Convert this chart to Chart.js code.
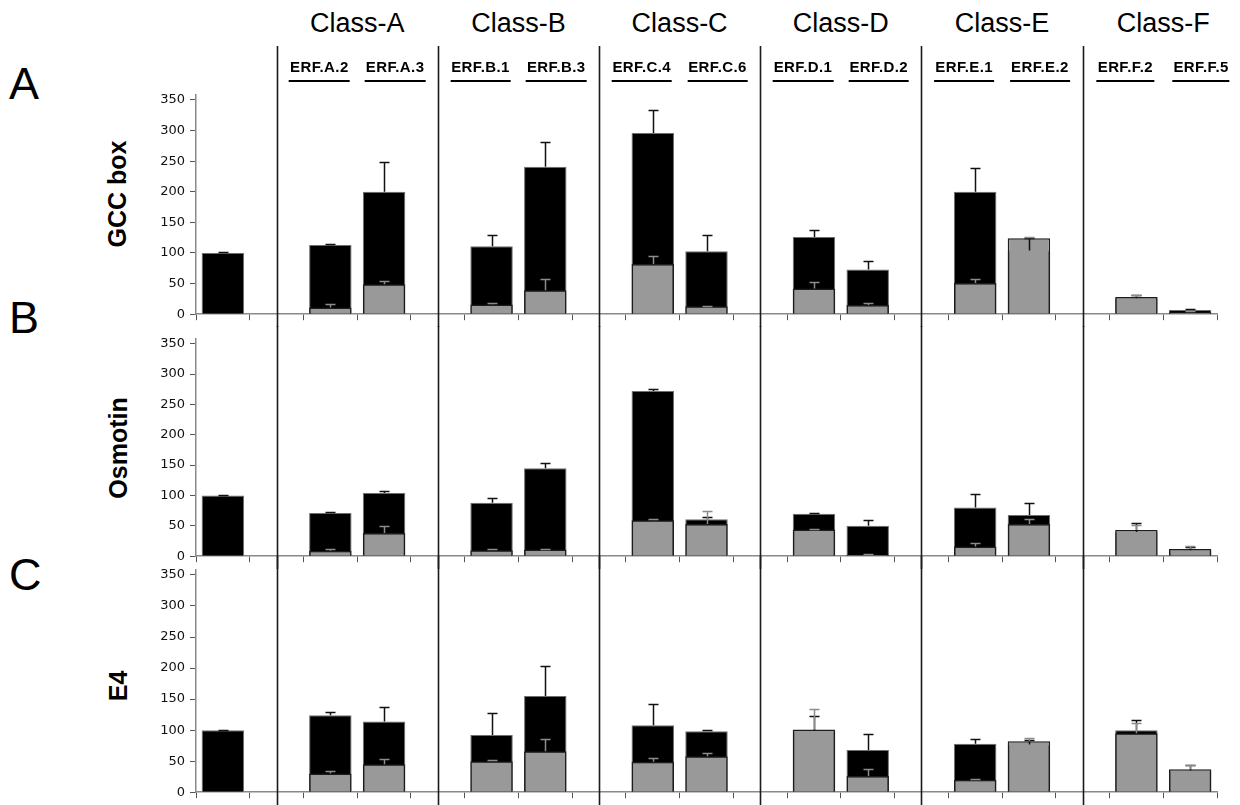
<!DOCTYPE html>
<html>
<head>
<meta charset="utf-8">
<script src="https://cdn.jsdelivr.net/npm/chart.js@4.4.1/dist/chart.umd.min.js"></script>
<style>
  body { margin: 0; background: #fff; width: 1240px; height: 805px; overflow: hidden; position: relative;
         font-family: "Liberation Sans", Arial, sans-serif; color: #000; }
  canvas { position: absolute; left: 0; }
  .panel-letter { position: absolute; left: 9px; font-size: 45px; line-height: 45px; }
  .ytitle { position: absolute; font-weight: bold; font-size: 25px; line-height: 25px; white-space: nowrap;
            transform: translate(-50%, -50%) rotate(-90deg); }
  .class-label { position: absolute; top: 10px; font-size: 27px; line-height: 27px; white-space: nowrap;
                 transform: translateX(-50%); }
  .erf-label { position: absolute; top: 59px; font-size: 15px; line-height: 16px; font-weight: bold; white-space: nowrap;
               letter-spacing: 0.4px; transform: translateX(-50%); border-bottom: 2px solid #000; padding: 0 1px 5px; }
</style>
</head>
<body>
<div class="panel-letter" style="top:61px">A</div>
<div class="panel-letter" style="top:295px">B</div>
<div class="panel-letter" style="top:552px">C</div>
<div class="ytitle" style="left:117px; top:194px">GCC box</div>
<div class="ytitle" style="left:118px; top:448px">Osmotin</div>
<div class="ytitle" style="left:118px; top:686px">E4</div>

<canvas id="chart-gcc" width="1240" height="281" style="top:46px"></canvas>
<canvas id="chart-osm" width="1240" height="243" style="top:326px"></canvas>
<canvas id="chart-e4" width="1240" height="249" style="top:556px"></canvas>

<script>
// ===================== Data =====================
const categories = ['Control', '', 'ERF.A.2', 'ERF.A.3', '', 'ERF.B.1', 'ERF.B.3', '', 'ERF.C.4', 'ERF.C.6', '',
  'ERF.D.1', 'ERF.D.2', '', 'ERF.E.1', 'ERF.E.2', '', 'ERF.F.2', 'ERF.F.5'];
const classNames = ['Class-A', 'Class-B', 'Class-C', 'Class-D', 'Class-E', 'Class-F'];
const classPairs = [[2, 3], [5, 6], [8, 9], [11, 12], [14, 15], [17, 18]];
const separatorIdx = [1, 4, 7, 10, 13, 16];
const yTicks = [0, 50, 100, 150, 200, 250, 300, 350];

// GCC box
const gccBlack    = [100, null, 113, 200, null, 111, 241, null, 296, 103, null, 126, 73, null, 200, 104, null, 26, 7];
const gccBlackErr = [1, null, 2, 48, null, 19, 40, null, 38, 27, null, 12, 14, null, 39, 21, null, 6, 1];
const gccGray     = [null, null, 11, 49, null, 16, 39, null, 82, 13, null, 42, 15, null, 51, 124, null, 28, 3];
const gccGrayErr  = [null, null, 6, 5, null, 3, 18, null, 13, 1, null, 10, 3, null, 6, 2, null, 4, 2];

// Osmotin
const osmBlack    = [100, null, 71, 104, null, 88, 145, null, 272, 61, null, 70, 50, null, 80, 68, null, 40, 10];
const osmBlackErr = [0, null, 1, 3, null, 8, 9, null, 4, 3, null, 1, 9, null, 23, 20, null, 15, 5];
const osmGray     = [null, null, 9, 38, null, 10, 11, null, 59, 53, null, 44, 2, null, 16, 53, null, 43, 12];
const osmGrayErr  = [null, null, 3, 12, null, 2, 1, null, 3, 22, null, 1, 1, null, 5, 8, null, 8, 4];

// E4
const e4Black    = [100, null, 124, 114, null, 92, 155, null, 108, 98, null, 99, 68, null, 78, 77, null, 100, 35];
const e4BlackErr = [0, null, 5, 23, null, 35, 48, null, 34, 2, null, 23, 26, null, 7, 7, null, 16, 9];
const e4Gray     = [null, null, 30, 45, null, 50, 66, null, 49, 58, null, 101, 26, null, 20, 82, null, 95, 37];
const e4GrayErr  = [null, null, 4, 8, null, 2, 19, null, 6, 5, null, 33, 11, null, 2, 5, null, 16, 7];

// ===================== Plugins =====================
const separators = {
  id: 'separators',
  afterDraw(chart) {
    const { ctx, scales: { x } } = chart;
    ctx.save();
    ctx.strokeStyle = '#1a1a1a';
    ctx.lineWidth = 1.6;
    separatorIdx.forEach(i => {
      const px = Math.round(x.getPixelForValue(i)) + 0.5;
      ctx.beginPath();
      ctx.moveTo(px, 0);
      ctx.lineTo(px, chart.height);
      ctx.stroke();
    });
    ctx.restore();
  }
};

const errorBars = {
  id: 'errorBars',
  afterDatasetsDraw(chart) {
    const { ctx, scales: { y } } = chart;
    ctx.save();
    ctx.lineWidth = 1.5;
    chart.data.datasets.forEach((ds, di) => {
      const meta = chart.getDatasetMeta(di);
      ctx.strokeStyle = ds.errColor;
      meta.data.forEach((bar, i) => {
        const v = ds.data[i], e = ds.errors[i];
        if (v == null || e == null) return;
        const cx = Math.round(bar.x) + 0.5;
        const y0 = y.getPixelForValue(v), y1 = Math.round(y.getPixelForValue(v + e)) + 0.5;
        ctx.beginPath();
        ctx.moveTo(cx, y0);
        ctx.lineTo(cx, y1);
        ctx.moveTo(cx - 5, y1);
        ctx.lineTo(cx + 5, y1);
        ctx.stroke();
      });
    });
    ctx.restore();
  }
};

// ===================== Charts =====================
function makePanel(id, padTop, black, blackErr, gray, grayErr) {
  return new Chart(document.getElementById(id), {
    type: 'bar',
    data: {
      labels: categories,
      datasets: [
        { data: black, errors: blackErr, errColor: '#111', order: 1,
          backgroundColor: '#000', borderColor: '#6e6e6e', borderWidth: 1,
          barPercentage: 0.79, categoryPercentage: 1 },
        { data: gray, errors: grayErr, errColor: '#8c8c8c', order: 0,
          backgroundColor: '#999999', borderColor: '#1c1c1c', borderWidth: 1.5,
          barPercentage: 0.79, categoryPercentage: 1 },
      ],
    },
    options: {
      responsive: false,
      animation: false,
      layout: { padding: { top: padTop, right: 23, bottom: 3, left: 0 } },
      plugins: { legend: { display: false }, tooltip: { enabled: false } },
      scales: {
        x: {
          stacked: true,
          offset: true,
          border: { color: '#8a8a8a', width: 1.5 },
          grid: { offset: true, drawOnChartArea: false, tickLength: 6, color: '#555' },
          ticks: { display: false },
        },
        y: {
          stacked: false,
          min: 0,
          max: 358,
          afterBuildTicks: s => { s.ticks = yTicks.map(v => ({ value: v })); },
          afterFit: s => { s.width = 196; },
          border: { color: '#8a8a8a', width: 1.5 },
          grid: { drawOnChartArea: false, tickLength: 6, color: '#555' },
          ticks: { font: { family: 'DejaVu Sans', size: 13 }, color: '#111', padding: 5 },
        },
      },
    },
    plugins: [errorBars, separators],
  });
}

const gccChart = makePanel('chart-gcc', 49, gccBlack, gccBlackErr, gccGray, gccGrayErr);
makePanel('chart-osm', 12, osmBlack, osmBlackErr, osmGray, osmGrayErr);
makePanel('chart-e4', 14, e4Black, e4BlackErr, e4Gray, e4GrayErr);

// ===================== Header labels =====================
const xs = gccChart.scales.x;
classPairs.forEach(([a, b], k) => {
  const left = xs.getPixelForValue(a), right = xs.getPixelForValue(b);
  const cls = document.createElement('div');
  cls.className = 'class-label';
  cls.style.left = ((left + right) / 2) + 'px';
  cls.textContent = classNames[k];
  document.body.appendChild(cls);

  [[a, left - 11], [b, right + 11]].forEach(([idx, px]) => {
    const lab = document.createElement('div');
    lab.className = 'erf-label';
    lab.style.left = px + 'px';
    lab.textContent = categories[idx];
    document.body.appendChild(lab);
  });
});
</script>
</body>
</html>
